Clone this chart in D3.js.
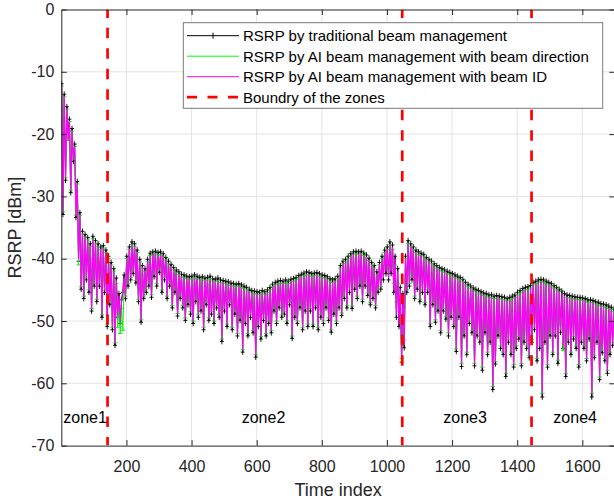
<!DOCTYPE html>
<html><head><meta charset="utf-8">
<script src="https://cdn.jsdelivr.net/npm/d3@7"></script>
<style>body{margin:0;background:#fff} svg{display:block;font-family:"Liberation Sans",Arial,Helvetica,sans-serif}</style>
</head><body>
<svg id="chart" width="614" height="500"></svg>
<script>
// ---------------- data ----------------
const timeIndex = d3.range(1, 1700, 4);   // sampled time index (1, 5, 9, ... 1697)

const rsrpTraditional = [
-11.9,-32.9,-13.6,-27.4,-15.6,-19.4,-17.6,-29.4,-19.1,-24.4,
-21.6,-33.4,-27.6,-40.4,-32.6,-44.9,-35.6,-46.4,-36.1,-43.4,
-36.6,-45.4,-37.6,-48.4,-36.4,-44.4,-37.1,-46.9,-37.6,-44.4,
-38.1,-49.4,-37.9,-45.4,-38.6,-50.9,-39.6,-47.4,-40.6,-51.4,
-41.6,-53.9,-43.1,-49.4,-45.6,-50.4,-46.6,-45.4,-42.6,-46.4,
-39.6,-44.4,-38.1,-43.4,-37.3,-42.4,-37.6,-43.9,-38.6,-46.9,
-40.1,-50.2,-41.1,-46.4,-41.6,-45.4,-40.1,-44.4,-39.1,-46.2,
-38.9,-42.9,-38.8,-44.4,-39,-42.2,-38.9,-45.4,-39.2,-43.4,
-39.8,-46.4,-40.4,-44.4,-40.9,-47.9,-41.4,-45.4,-41.8,-49.2,
-42.1,-46.4,-42.5,-47.9,-42.6,-49.9,-42.8,-47.4,-42.9,-48.9,
-42.8,-50.4,-42.6,-46.9,-42.8,-49.4,-43,-48.4,-42.9,-51.4,
-43.1,-47.4,-43,-49.9,-42.8,-48.9,-43.2,-50.4,-43.3,-47.9,
-43.1,-49.4,-43.4,-53.3,-43.5,-48.4,-43.6,-50.9,-43.7,-47.4,
-43.9,-51.4,-44,-48.9,-44.1,-52.4,-44,-49.9,-44.2,-55,
-44.4,-50.4,-44.6,-52.4,-44.9,-49.4,-45.1,-51.9,-45.2,-55.8,
-45.3,-50.9,-45.4,-52.9,-45.1,-49.9,-45.3,-52.4,-45,-50.4,
-44.6,-51.9,-44.1,-48.4,-43.8,-50.4,-43.6,-47.9,-43.5,-49.4,
-43.6,-48.9,-43.4,-50.4,-43.6,-47.4,-43.3,-52.8,-43.2,-49.4,
-43,-50.4,-42.7,-47.9,-42.5,-51.4,-42.3,-48.4,-42.1,-50.9,
-42.2,-48.4,-42.4,-50.9,-42.3,-47.9,-42.2,-51.4,-42.4,-49.4,
-42.6,-50.4,-42.7,-47.9,-42.9,-49.9,-43.2,-51.8,-43.4,-48.9,
-43.2,-50.4,-42.8,-47.9,-41.1,-49.1,-40.4,-46.4,-40.1,-47.9,
-39.6,-45.4,-39.2,-48,-38.9,-44.9,-38.8,-46.4,-38.9,-44.4,
-38.8,-46.9,-39.1,-44.4,-39.4,-45.9,-39.9,-47.4,-40.6,-46.4,
-41.1,-47.9,-42.1,-45.4,-40.6,-44.9,-39.6,-43.4,-38.6,-42.4,
-38.1,-43.4,-37.3,-42.4,-37.8,-45.4,-39.6,-49.4,-41.6,-50.9,
-44.6,-56.6,-45.6,-54.3,-39.6,-45.4,-37.1,-44.4,-37.6,-43.4,
-38.1,-46.4,-38.6,-44.9,-38.9,-46.9,-39.1,-45.4,-39.3,-47.4,
-39.8,-45.4,-40.1,-50.9,-40.4,-47.4,-40.8,-50.2,-41.1,-48.4,
-41.4,-51.9,-41.6,-48.4,-41.8,-49.7,-42,-52.4,-42.2,-49.4,
-42.4,-50.9,-42.6,-54.9,-42.8,-49.4,-43,-57.3,-43.3,-52.4,
-43.8,-55.4,-44.1,-50.4,-44.4,-51.9,-44.7,-57.2,-44.9,-52.4,
-45.1,-53.4,-45.3,-57.9,-45.5,-51.9,-45.6,-55.4,-45.8,-53.4,
-45.8,-61,-46,-56.9,-45.9,-52.4,-46,-54.4,-46.1,-55.4,
-46.2,-58.9,-46.4,-53.4,-46.2,-55.4,-46,-57.4,-45.8,-54.4,
-45.4,-52.9,-45.1,-57.2,-44.8,-53.4,-44.6,-54.4,-44.5,-55.9,
-44.3,-53.4,-43.8,-51.4,-43.6,-56.4,-43.4,-54.4,-43.3,-62.2,
-43.4,-53.4,-43.6,-57.4,-43.8,-52.4,-44,-55.4,-44.3,-52.4,
-44.6,-56.8,-44.9,-51.8,-45.2,-54.4,-45.6,-58.9,-45.8,-53.4,
-45.9,-55.4,-46,-52.9,-46.1,-54.4,-46.2,-57.4,-46.2,-53.4,
-46.3,-54.4,-46.4,-56.4,-46.6,-52.9,-46.6,-62.2,-46.7,-55.9,
-46.9,-53.4,-47,-59.4,-47.2,-55.1,-47.3,-56.4,-47.4,-58.4,
-47.6,-55.4,-47.8,-53.9,-48.1
];

const rsrpBeamDirection = [
-12.3,-32.5,-14,-27,-16,-21,-18,-29,-19.5,-24,
-22,-33,-28,-41,-33,-44.5,-36,-46,-36.5,-43,
-37,-45,-38,-48,-36.8,-44,-37.5,-46.5,-38,-44,
-38.5,-49,-38.3,-45,-39,-50.5,-40,-47,-41,-51,
-42,-53.5,-44,-51,-47.5,-52,-48,-51.5,-44,-46,
-40,-44,-38.5,-43,-37.7,-42,-38,-43.5,-39,-46.5,
-40.5,-49.8,-41.5,-46,-42,-45,-40.5,-44,-39.5,-45.8,
-39.3,-42.5,-39.2,-44,-39.4,-41.8,-39.3,-45,-39.6,-43,
-40.2,-46,-40.8,-44,-41.3,-47.5,-41.8,-45,-42.2,-48.8,
-42.5,-46,-42.9,-47.5,-43,-49.5,-43.2,-47,-43.3,-48.5,
-43.2,-50,-43,-46.5,-43.2,-49,-43.4,-48,-43.3,-51,
-43.5,-47,-43.4,-49.5,-43.2,-48.5,-43.6,-50,-43.7,-47.5,
-43.5,-49,-43.8,-52.9,-43.9,-48,-44,-50.5,-44.1,-47,
-44.3,-51,-44.4,-48.5,-44.5,-52,-44.4,-49.5,-44.6,-54.6,
-44.8,-50,-45,-52,-45.3,-49,-45.5,-51.5,-45.6,-55.4,
-45.7,-50.5,-45.8,-52.5,-45.5,-49.5,-45.7,-52,-45.4,-50,
-45,-51.5,-44.5,-48,-44.2,-50,-44,-47.5,-43.9,-49,
-44,-48.5,-43.8,-50,-44,-47,-43.7,-52.4,-43.6,-49,
-43.4,-50,-43.1,-47.5,-42.9,-51,-42.7,-48,-42.5,-50.5,
-42.6,-48,-42.8,-50.5,-42.7,-47.5,-42.6,-51,-42.8,-49,
-43,-50,-43.1,-47.5,-43.3,-49.5,-43.6,-51.4,-43.8,-48.5,
-43.6,-50,-43.2,-47.5,-41.5,-48.7,-40.8,-46,-40.5,-47.5,
-40,-45,-39.6,-47.6,-39.3,-44.5,-39.2,-46,-39.3,-44,
-39.2,-46.5,-39.5,-44,-39.8,-45.5,-40.3,-47,-41,-46,
-41.5,-47.5,-42.5,-45,-41,-44.5,-40,-41.5,-39,-40.5,
-38.5,-41.5,-37.7,-40,-38.5,-44,-41,-47,-44,-48.5,
-47,-56,-48,-53,-40,-45,-37.5,-44,-38,-43,
-38.5,-46,-39,-44.5,-39.3,-46.5,-39.5,-45,-39.7,-47,
-40.2,-45,-40.5,-50.4,-40.8,-47,-41.2,-49.8,-41.5,-48,
-41.8,-51.5,-42,-48,-42.2,-49.3,-42.4,-51.9,-42.6,-49,
-42.8,-50.5,-43,-54.5,-43.2,-49,-43.4,-56.8,-43.7,-52,
-44.2,-55,-44.5,-50,-44.8,-51.5,-45.1,-56.8,-45.3,-52,
-45.5,-53,-45.7,-57.4,-45.9,-51.5,-46,-55,-46.2,-53,
-46.2,-60.5,-46.4,-56.5,-46.3,-52,-46.4,-54,-46.5,-55,
-46.6,-58.4,-46.8,-53,-46.6,-55,-46.4,-57,-46.2,-54,
-45.8,-52.5,-45.5,-56.8,-45.2,-53,-45,-54,-44.9,-55.5,
-44.7,-53,-44.2,-51,-44,-56,-43.8,-54,-43.7,-61.6,
-43.8,-53,-44,-57,-44.2,-52,-44.4,-55,-44.7,-52,
-45,-56.3,-45.3,-51.4,-50,-54.7,-51,-58.4,-46.2,-53,
-46.3,-55,-46.4,-52.5,-46.5,-54,-46.6,-57,-46.6,-53,
-46.7,-54,-46.8,-56,-47,-52.5,-47,-61.6,-47.1,-55.5,
-47.3,-53,-47.4,-59,-47.6,-54.7,-47.7,-56,-47.8,-57.9,
-48,-55,-48.2,-53.5,-48.5
];

const rsrpBeamID = [
-12.3,-32.5,-14,-27,-16,-21,-18,-29,-19.5,-24,
-22,-33,-28,-40,-33,-44.5,-36,-46,-36.5,-43,
-37,-45,-38,-48,-36.8,-44,-37.5,-46.5,-38,-44,
-38.5,-49,-38.3,-45,-39,-50.5,-40,-47,-41,-51,
-42,-53.5,-43.5,-49,-46,-50,-47,-45,-43,-46,
-40,-44,-38.5,-43,-37.7,-42,-38,-43.5,-39,-46.5,
-40.5,-49.8,-41.5,-46,-42,-45,-40.5,-44,-39.5,-45.8,
-39.3,-42.5,-39.2,-44,-39.4,-41.8,-39.3,-45,-39.6,-43,
-40.2,-46,-40.8,-44,-41.3,-47.5,-41.8,-45,-42.2,-48.8,
-42.5,-46,-42.9,-47.5,-43,-49.5,-43.2,-47,-43.3,-48.5,
-43.2,-50,-43,-46.5,-43.2,-49,-43.4,-48,-43.3,-51,
-43.5,-47,-43.4,-49.5,-43.2,-48.5,-43.6,-50,-43.7,-47.5,
-43.5,-49,-43.8,-52.9,-43.9,-48,-44,-50.5,-44.1,-47,
-44.3,-51,-44.4,-48.5,-44.5,-52,-44.4,-49.5,-44.6,-54.6,
-44.8,-50,-45,-52,-45.3,-49,-45.5,-51.5,-45.6,-55.4,
-45.7,-50.5,-45.8,-52.5,-45.5,-49.5,-45.7,-52,-45.4,-50,
-45,-51.5,-44.5,-48,-44.2,-50,-44,-47.5,-43.9,-49,
-44,-48.5,-43.8,-50,-44,-47,-43.7,-52.4,-43.6,-49,
-43.4,-50,-43.1,-47.5,-42.9,-51,-42.7,-48,-42.5,-50.5,
-42.6,-48,-42.8,-50.5,-42.7,-47.5,-42.6,-51,-42.8,-49,
-43,-50,-43.1,-47.5,-43.3,-49.5,-43.6,-51.4,-43.8,-48.5,
-43.6,-50,-43.2,-47.5,-41.5,-48.7,-40.8,-46,-40.5,-47.5,
-40,-45,-39.6,-47.6,-39.3,-44.5,-39.2,-46,-39.3,-44,
-39.2,-46.5,-39.5,-44,-39.8,-45.5,-40.3,-47,-41,-46,
-41.5,-47.5,-42.5,-45,-41,-44.5,-40,-43,-39,-42,
-38.5,-43,-37.7,-42,-38.2,-45,-40,-49,-42,-50.5,
-45,-55.7,-46,-53.8,-40,-45,-37.5,-44,-38,-43,
-38.5,-46,-39,-44.5,-39.3,-46.5,-39.5,-45,-39.7,-47,
-40.2,-45,-40.5,-50.4,-40.8,-47,-41.2,-49.8,-41.5,-48,
-41.8,-51.5,-42,-48,-42.2,-49.3,-42.4,-51.9,-42.6,-49,
-42.8,-50.5,-43,-54.5,-43.2,-49,-43.4,-56.8,-43.7,-52,
-44.2,-55,-44.5,-50,-44.8,-51.5,-45.1,-56.8,-45.3,-52,
-45.5,-53,-45.7,-57.4,-45.9,-51.5,-46,-55,-46.2,-53,
-46.2,-60.5,-46.4,-56.5,-46.3,-52,-46.4,-54,-46.5,-55,
-46.6,-58.4,-46.8,-53,-46.6,-55,-46.4,-57,-46.2,-54,
-45.8,-52.5,-45.5,-56.8,-45.2,-53,-45,-54,-44.9,-55.5,
-44.7,-53,-44.2,-51,-44,-56,-43.8,-54,-43.7,-61.6,
-43.8,-53,-44,-57,-44.2,-52,-44.4,-55,-44.7,-52,
-45,-56.3,-45.3,-51.4,-45.6,-54,-46,-58.4,-46.2,-53,
-46.3,-55,-46.4,-52.5,-46.5,-54,-46.6,-57,-46.6,-53,
-46.7,-54,-46.8,-56,-47,-52.5,-47,-61.6,-47.1,-55.5,
-47.3,-53,-47.4,-59,-47.6,-54.7,-47.7,-56,-47.8,-57.9,
-48,-55,-48.2,-53.5,-48.5
];

const zoneBoundaries = [142, 1047, 1444];
const zoneLabels = ["zone1", "zone2", "zone3", "zone4"];
const zoneLabelX = [6, 554, 1173, 1511];
const zoneLabelY = -66.3;

const xTicks = [200, 400, 600, 800, 1000, 1200, 1400, 1600];
const yTicks = [0, -10, -20, -30, -40, -50, -60, -70];
const seriesNames = [
  "RSRP by traditional beam management",
  "RSRP by AI beam management with beam direction",
  "RSRP by AI beam management with beam ID",
  "Boundry of the zones"
];
const xLabel = "Time index";
const yLabel = "RSRP [dBm]";

// ---------------- drawing ----------------
const svg = d3.select("#chart");
const L = 61.3, R = 614.9, T = 9.5, B = 445.6;
const x = d3.scaleLinear().domain([0, 1700]).range([L, R]);
const y = d3.scaleLinear().domain([-70, 0]).range([B, T]);
const axisColor = "#262626";
const fmt = d => String(d);

svg.append("defs").append("clipPath").attr("id", "plotclip")
  .append("rect").attr("x", L).attr("y", T).attr("width", R - L).attr("height", B - T);

// grid
const grid = svg.append("g").attr("stroke", "#e3e3e3").attr("stroke-width", 1);
grid.selectAll(".gx").data(xTicks).join("line")
  .attr("x1", d => x(d)).attr("x2", d => x(d)).attr("y1", T).attr("y2", B);
grid.selectAll(".gy").data(yTicks.filter(d => d > -70 && d < 0)).join("line")
  .attr("x1", L).attr("x2", R).attr("y1", d => y(d)).attr("y2", d => y(d));

const plot = svg.append("g").attr("clip-path", "url(#plotclip)");
const line = d3.line().x(d => x(d[0])).y(d => y(d[1]));
const ptsT = timeIndex.map((t, i) => [t, rsrpTraditional[i]]);
const ptsD = timeIndex.map((t, i) => [t, rsrpBeamDirection[i]]);
const ptsI = timeIndex.map((t, i) => [t, rsrpBeamID[i]]);

// traditional: black line with + markers
plot.append("path").attr("d", line(ptsT)).attr("fill", "none")
  .attr("stroke", "#000").attr("stroke-width", 1);
plot.append("path")
  .attr("d", ptsT.map(p => {
    const px = x(p[0]), py = y(p[1]);
    return `M${px - 2},${py}h4M${px},${py - 2.8}v5.6`;
  }).join(""))
  .attr("fill", "none").attr("stroke", "#000").attr("stroke-width", 0.9);

// beam direction: green
plot.append("path").attr("d", line(ptsD)).attr("fill", "none")
  .attr("stroke", "#00ff00").attr("stroke-width", 1);
plot.append("path")
  .attr("d", ptsD.map(p => {
    const px = x(p[0]), py = y(p[1]);
    return `M${px - 2.2},${py}h4.4`;
  }).join(""))
  .attr("fill", "none").attr("stroke", "#00ff00").attr("stroke-width", 1);

// beam ID: magenta
plot.append("path").attr("d", line(ptsI)).attr("fill", "none")
  .attr("stroke", "#ff00ff").attr("stroke-width", 1.2).attr("stroke-linejoin", "round");

// zone boundaries
plot.selectAll(".zb").data(zoneBoundaries).join("line")
  .attr("x1", d => x(d)).attr("x2", d => x(d))
  .attr("y1", y(0)).attr("y2", y(-70))
  .attr("stroke", "#ff0000").attr("stroke-width", 2.7)
  .attr("stroke-dasharray", "10.5,9.96").attr("stroke-dashoffset", 2.1);

// zone labels
svg.selectAll(".zl").data(zoneLabels).join("text")
  .attr("x", (d, i) => x(zoneLabelX[i])).attr("y", y(zoneLabelY))
  .attr("font-size", 16).attr("fill", "#000").text(d => d);

// axes
const gx = svg.append("g").attr("transform", `translate(0,${B})`)
  .call(d3.axisBottom(x).tickValues(xTicks).tickFormat(fmt).tickSizeInner(-5.5).tickSizeOuter(0).tickPadding(15));
const gy = svg.append("g").attr("transform", `translate(${L},0)`)
  .call(d3.axisLeft(y).tickValues(yTicks).tickFormat(fmt).tickSizeInner(-5.5).tickSizeOuter(0).tickPadding(7));
const gxt = svg.append("g").attr("transform", `translate(0,${T})`)
  .call(d3.axisTop(x).tickValues(xTicks).tickSizeInner(-5.5).tickSizeOuter(0).tickFormat(""));
const gyr = svg.append("g").attr("transform", `translate(${R},0)`)
  .call(d3.axisRight(y).tickValues(yTicks).tickSizeInner(-5.5).tickSizeOuter(0).tickFormat(""));
[gx, gy, gxt, gyr].forEach(g => {
  g.selectAll("path,line").attr("stroke", axisColor);
  g.selectAll("text").attr("fill", axisColor).attr("font-size", 16)
    .attr("font-family", '"Liberation Sans",Arial,Helvetica,sans-serif');
});

svg.append("text").attr("x", (L + R) / 2).attr("y", 495.5).attr("text-anchor", "middle")
  .attr("font-size", 18).attr("fill", axisColor).text(xLabel);
svg.append("text").attr("transform", `translate(20.5,${(T + B) / 2}) rotate(-90)`)
  .attr("text-anchor", "middle").attr("font-size", 18).attr("fill", axisColor).text(yLabel);

// legend
const lg = svg.append("g");
lg.append("rect").attr("x", 183.3).attr("y", 22.7).attr("width", 419.4).attr("height", 85.6)
  .attr("fill", "#fff").attr("stroke", "#7a7a7a").attr("stroke-width", 1);
const rowY = [35.7, 56.2, 76.7, 97.2];
const lx1 = 188, lx2 = 238;
const legendStyles = [
  {c: "#000", w: 1, dash: null},
  {c: "#00ff00", w: 1, dash: null},
  {c: "#ff00ff", w: 1, dash: null},
  {c: "#ff0000", w: 2.7, dash: "10,10.5"}
];
seriesNames.forEach((name, i) => {
  const s = legendStyles[i];
  const ln = lg.append("line").attr("x1", lx1 - 1).attr("x2", lx2 + 1)
    .attr("y1", rowY[i]).attr("y2", rowY[i]).attr("stroke", s.c).attr("stroke-width", s.w);
  if (s.dash) ln.attr("stroke-dasharray", s.dash);
  if (i === 0) {
    const mx = (lx1 + lx2) / 2;
    lg.append("path").attr("d", `M${mx},${rowY[i] - 3}v6`).attr("stroke", "#000").attr("stroke-width", 1);
  }
  lg.append("text").attr("x", 243).attr("y", rowY[i]).attr("dy", "0.36em")
    .attr("font-size", 15).attr("fill", "#000").text(name);
});
</script>
</body></html>
